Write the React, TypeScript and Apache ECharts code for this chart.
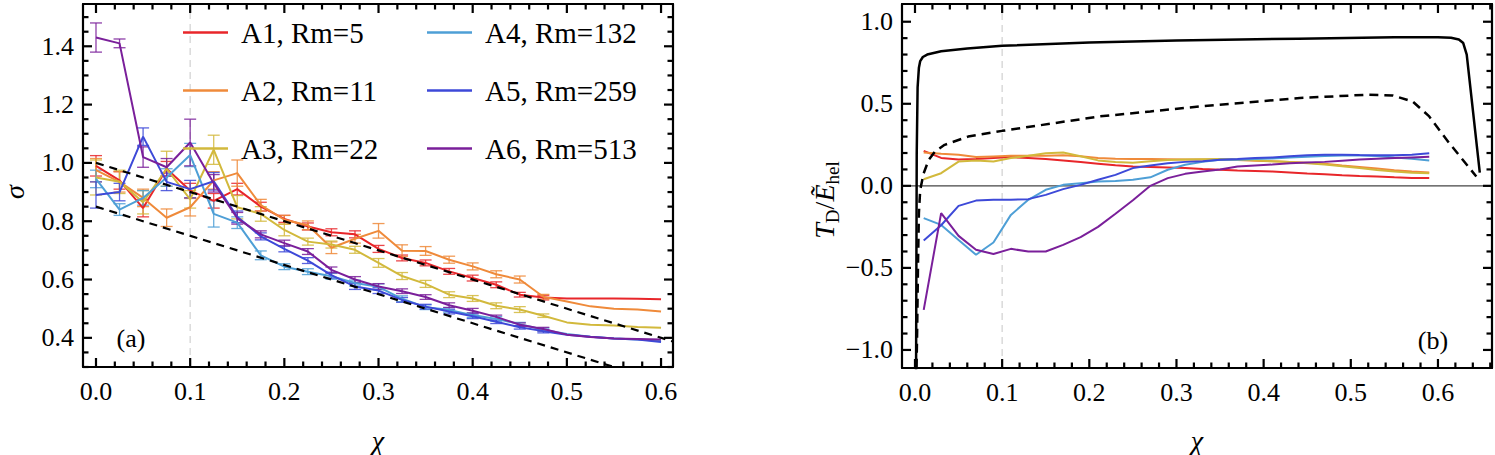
import React, { useEffect, useRef } from 'react';
import * as echarts from 'echarts';

// ---------- Panel (a) data ----------
const chiA = [0, 0.025, 0.05, 0.075, 0.1, 0.125, 0.15, 0.175, 0.2, 0.225, 0.25, 0.275, 0.3, 0.325, 0.35, 0.375, 0.4, 0.425, 0.45, 0.475, 0.5, 0.525, 0.55, 0.575, 0.6];
const sigA1 = [0.99, 0.94, 0.845, 0.98, 0.905, 0.87, 0.91, 0.85, 0.808, 0.782, 0.762, 0.755, 0.705, 0.674, 0.657, 0.628, 0.605, 0.582, 0.548, 0.538, 0.535, 0.535, 0.535, 0.534, 0.532];
const sigA2 = [0.975, 0.935, 0.88, 0.812, 0.848, 0.94, 0.965, 0.855, 0.805, 0.786, 0.709, 0.74, 0.767, 0.699, 0.698, 0.668, 0.645, 0.618, 0.6, 0.541, 0.525, 0.508, 0.5, 0.497, 0.49];
const sigA3 = [0.95, 0.935, 0.865, 0.98, 0.875, 1.045, 0.848, 0.825, 0.77, 0.73, 0.72, 0.702, 0.657, 0.612, 0.585, 0.548, 0.535, 0.51, 0.497, 0.476, 0.453, 0.445, 0.442, 0.437, 0.435];
const sigA4 = [0.945, 0.84, 0.88, 0.95, 1.027, 0.825, 0.795, 0.683, 0.644, 0.627, 0.611, 0.588, 0.575, 0.534, 0.505, 0.496, 0.478, 0.465, 0.447, 0.428, 0.413, 0.404, 0.398, 0.394, 0.39];
const sigA5 = [0.89, 0.9, 1.09, 0.935, 0.91, 0.937, 0.815, 0.748, 0.705, 0.665, 0.615, 0.576, 0.562, 0.53, 0.507, 0.49, 0.474, 0.455, 0.436, 0.423, 0.411, 0.404, 0.398, 0.394, 0.386];
const sigA6 = [1.43, 1.41, 1.02, 0.985, 1.07, 0.93, 0.81, 0.755, 0.725, 0.696, 0.633, 0.6, 0.576, 0.56, 0.54, 0.512, 0.493, 0.472, 0.445, 0.43, 0.411, 0.403, 0.398, 0.396, 0.394];
const errA1 = [0.035, 0.03, 0.03, 0.025, 0.025, 0.025, 0.02, 0.015, 0.012, 0.012, 0.012, 0.012, 0.012, 0.01, 0.01, 0.01, 0.01, 0.01, 0.008, 0.008, 0, 0, 0, 0, 0];
const errA2 = [0.04, 0.035, 0.03, 0.03, 0.03, 0.03, 0.045, 0.02, 0.015, 0.015, 0.02, 0.015, 0.025, 0.02, 0.015, 0.012, 0.012, 0.012, 0.012, 0.008, 0, 0, 0, 0, 0];
const errA3 = [0.06, 0.04, 0.04, 0.06, 0.03, 0.05, 0.04, 0.025, 0.02, 0.012, 0.012, 0.012, 0.015, 0.012, 0.012, 0.01, 0.01, 0.01, 0.01, 0.006, 0, 0, 0, 0, 0];
const errA4 = [0.03, 0.02, 0.025, 0.03, 0.04, 0.045, 0.02, 0.015, 0.01, 0.01, 0.01, 0.01, 0.01, 0.01, 0.008, 0.008, 0.008, 0.008, 0.006, 0.006, 0, 0, 0, 0, 0];
const errA5 = [0.045, 0.03, 0.03, 0.03, 0.03, 0.03, 0.02, 0.012, 0.01, 0.01, 0.01, 0.01, 0.01, 0.008, 0.008, 0.008, 0.008, 0.006, 0.006, 0.006, 0, 0, 0, 0, 0];
const errA6 = [0.05, 0.015, 0.035, 0.03, 0.08, 0.03, 0.02, 0.012, 0.01, 0.01, 0.01, 0.01, 0.01, 0.008, 0.008, 0.008, 0.008, 0.006, 0.006, 0.006, 0, 0, 0, 0, 0];
const refUpperA = [[0, 1.0], [0.6127, 0.3873]];
const refLowerA = [[0, 0.85], [0.55, 0.3]];

// ---------- Panel (b) data ----------
const chiB = [0.01, 0.03, 0.05, 0.07, 0.09, 0.11, 0.13, 0.15, 0.17, 0.19, 0.21, 0.23, 0.25, 0.27, 0.29, 0.31, 0.33, 0.35, 0.37, 0.39, 0.41, 0.43, 0.45, 0.47, 0.49, 0.51, 0.53, 0.55, 0.57, 0.59];
const tdA1 = [0.213, 0.17, 0.16, 0.163, 0.169, 0.175, 0.169, 0.163, 0.155, 0.145, 0.135, 0.125, 0.118, 0.115, 0.112, 0.108, 0.102, 0.098, 0.093, 0.09, 0.087, 0.082, 0.075, 0.07, 0.064, 0.06, 0.057, 0.052, 0.048, 0.047];
const tdA2 = [0.203, 0.195, 0.189, 0.175, 0.179, 0.183, 0.183, 0.183, 0.187, 0.18, 0.17, 0.165, 0.163, 0.163, 0.162, 0.161, 0.16, 0.159, 0.157, 0.153, 0.15, 0.146, 0.14, 0.134, 0.124, 0.115, 0.105, 0.095, 0.087, 0.081];
const tdA3 = [0.04, 0.077, 0.148, 0.154, 0.148, 0.169, 0.183, 0.199, 0.203, 0.18, 0.155, 0.145, 0.14, 0.15, 0.158, 0.16, 0.162, 0.163, 0.16, 0.156, 0.15, 0.145, 0.138, 0.13, 0.12, 0.108, 0.097, 0.087, 0.08, 0.077];
const tdA4 = [-0.197, -0.238, -0.33, -0.42, -0.345, -0.177, -0.085, -0.024, 0.006, 0.016, 0.026, 0.03, 0.037, 0.052, 0.098, 0.128, 0.146, 0.159, 0.159, 0.163, 0.167, 0.173, 0.177, 0.182, 0.185, 0.185, 0.182, 0.173, 0.165, 0.155];
const tdA5 = [-0.333, -0.24, -0.122, -0.09, -0.085, -0.085, -0.081, -0.055, -0.02, 0.006, 0.037, 0.067, 0.108, 0.124, 0.138, 0.146, 0.15, 0.159, 0.163, 0.169, 0.173, 0.18, 0.187, 0.19, 0.19, 0.188, 0.187, 0.187, 0.19, 0.199];
const tdA6 = [-0.756, -0.166, -0.305, -0.39, -0.415, -0.384, -0.4, -0.4, -0.36, -0.313, -0.25, -0.17, -0.088, 0.0, 0.047, 0.073, 0.087, 0.1, 0.118, 0.124, 0.13, 0.137, 0.142, 0.146, 0.153, 0.16, 0.165, 0.169, 0.173, 0.177];
const solidB = [[0.0012, -1.2], [0.002, 0.2], [0.003, 0.6], [0.0045, 0.72], [0.006, 0.76], [0.009, 0.785], [0.014, 0.8], [0.03, 0.82], [0.06, 0.837], [0.1, 0.853], [0.2, 0.873], [0.3, 0.885], [0.44, 0.897], [0.55, 0.905], [0.6, 0.906], [0.615, 0.902], [0.624, 0.892], [0.629, 0.87], [0.633, 0.8], [0.648, 0.08]];
const dashedB = [[0.0015, -1.2], [0.0025, -0.88], [0.0035, -0.47], [0.0045, -0.165], [0.006, -0.024], [0.01, 0.077], [0.0157, 0.158], [0.023, 0.209], [0.034, 0.25], [0.061, 0.3], [0.1, 0.335], [0.212, 0.423], [0.27, 0.453], [0.327, 0.484], [0.4415, 0.535], [0.518, 0.555], [0.548, 0.551], [0.571, 0.514], [0.59, 0.423], [0.613, 0.26], [0.644, 0.057]];

const names = ['A1, Rm=5', 'A2, Rm=11', 'A3, Rm=22', 'A4, Rm=132', 'A5, Rm=259', 'A6, Rm=513'];
const colors = ['#e8262a', '#ef8a3a', '#d2b93c', '#4e9fd6', '#3d49d8', '#7a1f9a'];
const sigAll = [sigA1, sigA2, sigA3, sigA4, sigA5, sigA6];
const errAll = [errA1, errA2, errA3, errA4, errA5, errA6];
const tdAll = [tdA1, tdA2, tdA3, tdA4, tdA5, tdA6];

// ---------- Ticks ----------
const majorXTicks = [0, 0.1, 0.2, 0.3, 0.4, 0.5, 0.6];
const minorXTicksA = [0.02, 0.04, 0.06, 0.08, 0.12, 0.14, 0.16, 0.18, 0.22, 0.24, 0.26, 0.28, 0.32, 0.34, 0.36, 0.38, 0.42, 0.44, 0.46, 0.48, 0.52, 0.54, 0.56, 0.58];
const minorXTicksB = [...minorXTicksA, 0.62, 0.64, 0.66];
const majorYTicksA = [0.4, 0.6, 0.8, 1.0, 1.2, 1.4];
const minorYTicksA = [0.3, 0.35, 0.45, 0.5, 0.55, 0.65, 0.7, 0.75, 0.85, 0.9, 0.95, 1.05, 1.1, 1.15, 1.25, 1.3, 1.35, 1.45, 1.5];
const majorYTicksB = [-1.0, -0.5, 0.0, 0.5, 1.0];
const minorYTicksB = [-0.9, -0.8, -0.7, -0.6, -0.4, -0.3, -0.2, -0.1, 0.1, 0.2, 0.3, 0.4, 0.6, 0.7, 0.8, 0.9];

const FONT = 'Liberation Serif';
const fmt = (v: number) => v.toFixed(1).replace('-', '\u2212');

function frameAxes(kind: 'x' | 'y', gridIndex: number, min: number, max: number) {
  const mk = (position: string) => ({
    type: 'value', gridIndex, min, max, position,
    axisLine: { show: true, onZero: false, lineStyle: { color: '#000', width: 2.2 } },
    splitLine: { show: false },
    axisTick: { show: false },
    axisLabel: { show: false },
  });
  return kind === 'x' ? [mk('bottom'), mk('top')] : [mk('left'), mk('right')];
}

// tick codes: 0 = x major, 1 = x minor, 2 = y major, 3 = y minor
function tickData(xMaj: number[], xMin: number[], yMaj: number[], yMin: number[]) {
  return [
    ...xMaj.map((v) => [v, 0]),
    ...xMin.map((v) => [v, 1]),
    ...yMaj.map((v) => [v, 2]),
    ...yMin.map((v) => [v, 3]),
  ];
}

const tickRender = (xr: [number, number], yr: [number, number]) => (params: any, api: any) => {
  const v = api.value(0);
  const c = api.value(1);
  const st = { stroke: '#000', lineWidth: 2.2 };
  const children: any[] = [];
  if (c === 0 || c === 1) {
    const len = c === 0 ? 9 : 5.5;
    const b = api.coord([v, yr[0]]);
    const t = api.coord([v, yr[1]]);
    children.push({ type: 'line', shape: { x1: b[0], y1: b[1], x2: b[0], y2: b[1] - len }, style: st });
    children.push({ type: 'line', shape: { x1: t[0], y1: t[1], x2: t[0], y2: t[1] + len }, style: st });
    if (c === 0) {
      children.push({
        type: 'text', x: b[0], y: b[1] + 11,
        style: { text: fmt(v), fontFamily: FONT, fontSize: 26, fill: '#000', align: 'center', verticalAlign: 'top' },
      });
    }
  } else {
    const len = c === 2 ? 9 : 5.5;
    const l = api.coord([xr[0], v]);
    const r = api.coord([xr[1], v]);
    children.push({ type: 'line', shape: { x1: l[0], y1: l[1], x2: l[0] + len, y2: l[1] }, style: st });
    children.push({ type: 'line', shape: { x1: r[0], y1: r[1], x2: r[0] - len, y2: r[1] }, style: st });
    if (c === 2) {
      children.push({
        type: 'text', x: l[0] - 9, y: l[1],
        style: { text: fmt(v), fontFamily: FONT, fontSize: 26, fill: '#000', align: 'right', verticalAlign: 'middle' },
      });
    }
  }
  return { type: 'group', children };
};

const errorRender = (color: string) => (params: any, api: any) => {
  const x = api.value(0);
  const y = api.value(1);
  const e = api.value(2);
  if (!e) return null;
  const t = api.coord([x, y + e]);
  const b = api.coord([x, y - e]);
  const w = 6;
  const st = { stroke: color, lineWidth: 1.3, opacity: 0.85 };
  return {
    type: 'group',
    children: [
      { type: 'line', shape: { x1: t[0], y1: t[1], x2: b[0], y2: b[1] }, style: st },
      { type: 'line', shape: { x1: t[0] - w, y1: t[1], x2: t[0] + w, y2: t[1] }, style: st },
      { type: 'line', shape: { x1: b[0] - w, y1: b[1], x2: b[0] + w, y2: b[1] }, style: st },
    ],
  };
};

export default function App() {
  const ref = useRef<HTMLDivElement>(null);
  useEffect(() => {
    const chart = echarts.init(ref.current!, null, { renderer: 'svg' });
    const xMinA = -0.0138, xMaxA = 0.6127, yMinA = 0.3, yMaxA = 1.545;
    const xMinB = -0.0149, xMaxB = 0.662, yMinB = -1.11, yMaxB = 1.108;

    const series: any[] = [];
    // Panel (a)
    series.push({
      type: 'line', xAxisIndex: 0, yAxisIndex: 0, silent: true, symbol: 'none',
      data: [[0.1, yMinA], [0.1, yMaxA]], lineStyle: { color: '#d4d4d4', width: 1.3, type: [7, 5] }, z: 1,
    });
    sigAll.forEach((s, k) => {
      series.push({
        type: 'custom', xAxisIndex: 0, yAxisIndex: 0, silent: true, z: 2,
        renderItem: errorRender(colors[k]),
        data: chiA.map((x, i) => [x, s[i], errAll[k][i]]),
      });
      series.push({
        name: names[k], type: 'line', xAxisIndex: 0, yAxisIndex: 0, symbol: 'none', showSymbol: false,
        data: chiA.map((x, i) => [x, s[i]]), lineStyle: { color: colors[k], width: 2 }, itemStyle: { color: colors[k] }, z: 3,
      });
    });
    [refUpperA, refLowerA].forEach((d) => {
      series.push({
        type: 'line', xAxisIndex: 0, yAxisIndex: 0, symbol: 'none', silent: true, data: d,
        lineStyle: { color: '#000', width: 2.2, type: [8, 6] }, z: 4,
      });
    });
    series.push({
      type: 'custom', xAxisIndex: 0, yAxisIndex: 0, z: 10, clip: false,
      renderItem: tickRender([xMinA, xMaxA], [yMinA, yMaxA]),
      data: tickData(majorXTicks, minorXTicksA, majorYTicksA, minorYTicksA),
    });
    // Panel (b)
    series.push({
      type: 'line', xAxisIndex: 2, yAxisIndex: 2, silent: true, symbol: 'none',
      data: [[0.1, yMinB], [0.1, yMaxB]], lineStyle: { color: '#d4d4d4', width: 1.3, type: [7, 5] }, z: 1,
    });
    series.push({
      type: 'line', xAxisIndex: 2, yAxisIndex: 2, silent: true, symbol: 'none',
      data: [[xMinB, 0], [xMaxB, 0]], lineStyle: { color: '#444', width: 1.3 }, z: 1,
    });
    tdAll.forEach((s, k) => {
      series.push({
        name: 'b-' + names[k], type: 'line', xAxisIndex: 2, yAxisIndex: 2, symbol: 'none', silent: true,
        data: chiB.map((x, i) => [x, s[i]]), lineStyle: { color: colors[k], width: 2 }, z: 3,
      });
    });
    series.push({
      type: 'line', xAxisIndex: 2, yAxisIndex: 2, symbol: 'none', silent: true, data: solidB,
      lineStyle: { color: '#000', width: 2.5 }, z: 4,
    });
    series.push({
      type: 'line', xAxisIndex: 2, yAxisIndex: 2, symbol: 'none', silent: true, data: dashedB,
      lineStyle: { color: '#000', width: 2.5, type: [9, 6] }, z: 4,
    });
    series.push({
      type: 'custom', xAxisIndex: 2, yAxisIndex: 2, z: 10, clip: false,
      renderItem: tickRender([xMinB, xMaxB], [yMinB, yMaxB]),
      data: tickData(majorXTicks, minorXTicksB, majorYTicksB, minorYTicksB),
    });

    const legendText = { color: '#000', fontFamily: FONT, fontSize: 29, padding: [0, 0, 0, 8] };
    const legendBase = {
      orient: 'vertical', icon: 'rect', itemWidth: 45, itemHeight: 2.5, itemGap: 29, textStyle: legendText,
      selectedMode: false, top: 13,
    };

    chart.setOption({
      animation: false,
      backgroundColor: '#fff',
      grid: [
        { left: 83, top: 4, width: 590, height: 363, show: false },
        { left: 902, top: 4, width: 590, height: 364, show: false },
      ],
      xAxis: [
        ...frameAxes('x', 0, xMinA, xMaxA),
        ...frameAxes('x', 1, xMinB, xMaxB),
      ],
      yAxis: [
        ...frameAxes('y', 0, yMinA, yMaxA),
        ...frameAxes('y', 1, yMinB, yMaxB),
      ],
      legend: [
        { ...legendBase, left: 178, data: names.slice(0, 3) },
        { ...legendBase, left: 422, data: names.slice(3, 6) },
      ],
      graphic: [
        { type: 'text', x: 14, y: 192, rotation: Math.PI / 2, style: { text: '\u03c3', fontFamily: FONT, fontStyle: 'italic', fontSize: 28, fill: '#000', align: 'center', verticalAlign: 'middle' } },
        { type: 'text', x: 378, y: 440, style: { text: '\u03c7', fontFamily: FONT, fontStyle: 'italic', fontSize: 28, fill: '#000', align: 'center', verticalAlign: 'middle' } },
        { type: 'text', x: 1197, y: 440, style: { text: '\u03c7', fontFamily: FONT, fontStyle: 'italic', fontSize: 28, fill: '#000', align: 'center', verticalAlign: 'middle' } },
        { type: 'text', x: 131, y: 338, style: { text: '(a)', fontFamily: FONT, fontSize: 26, fill: '#000', align: 'center', verticalAlign: 'middle' } },
        { type: 'text', x: 1433, y: 340, style: { text: '(b)', fontFamily: FONT, fontSize: 26, fill: '#000', align: 'center', verticalAlign: 'middle' } },
        {
          type: 'text', x: 824, y: 200, rotation: Math.PI / 2,
          style: {
            text: '{t|T}{s|D}{n|/}{t|\u1ebc}{s|hel}',
            align: 'center', verticalAlign: 'middle', fill: '#000',
            rich: {
              t: { fontFamily: FONT, fontStyle: 'italic', fontSize: 28, fill: '#000' },
              n: { fontFamily: FONT, fontSize: 28, fill: '#000' },
              s: { fontFamily: FONT, fontSize: 19, fill: '#000', padding: [16, 0, 0, 0] },
            },
          },
        },
      ],
      series,
    });
    return () => chart.dispose();
  }, []);
  return <div ref={ref} style={{ position: 'absolute', left: 0, top: 0, width: 1495, height: 455 }} />;
}
